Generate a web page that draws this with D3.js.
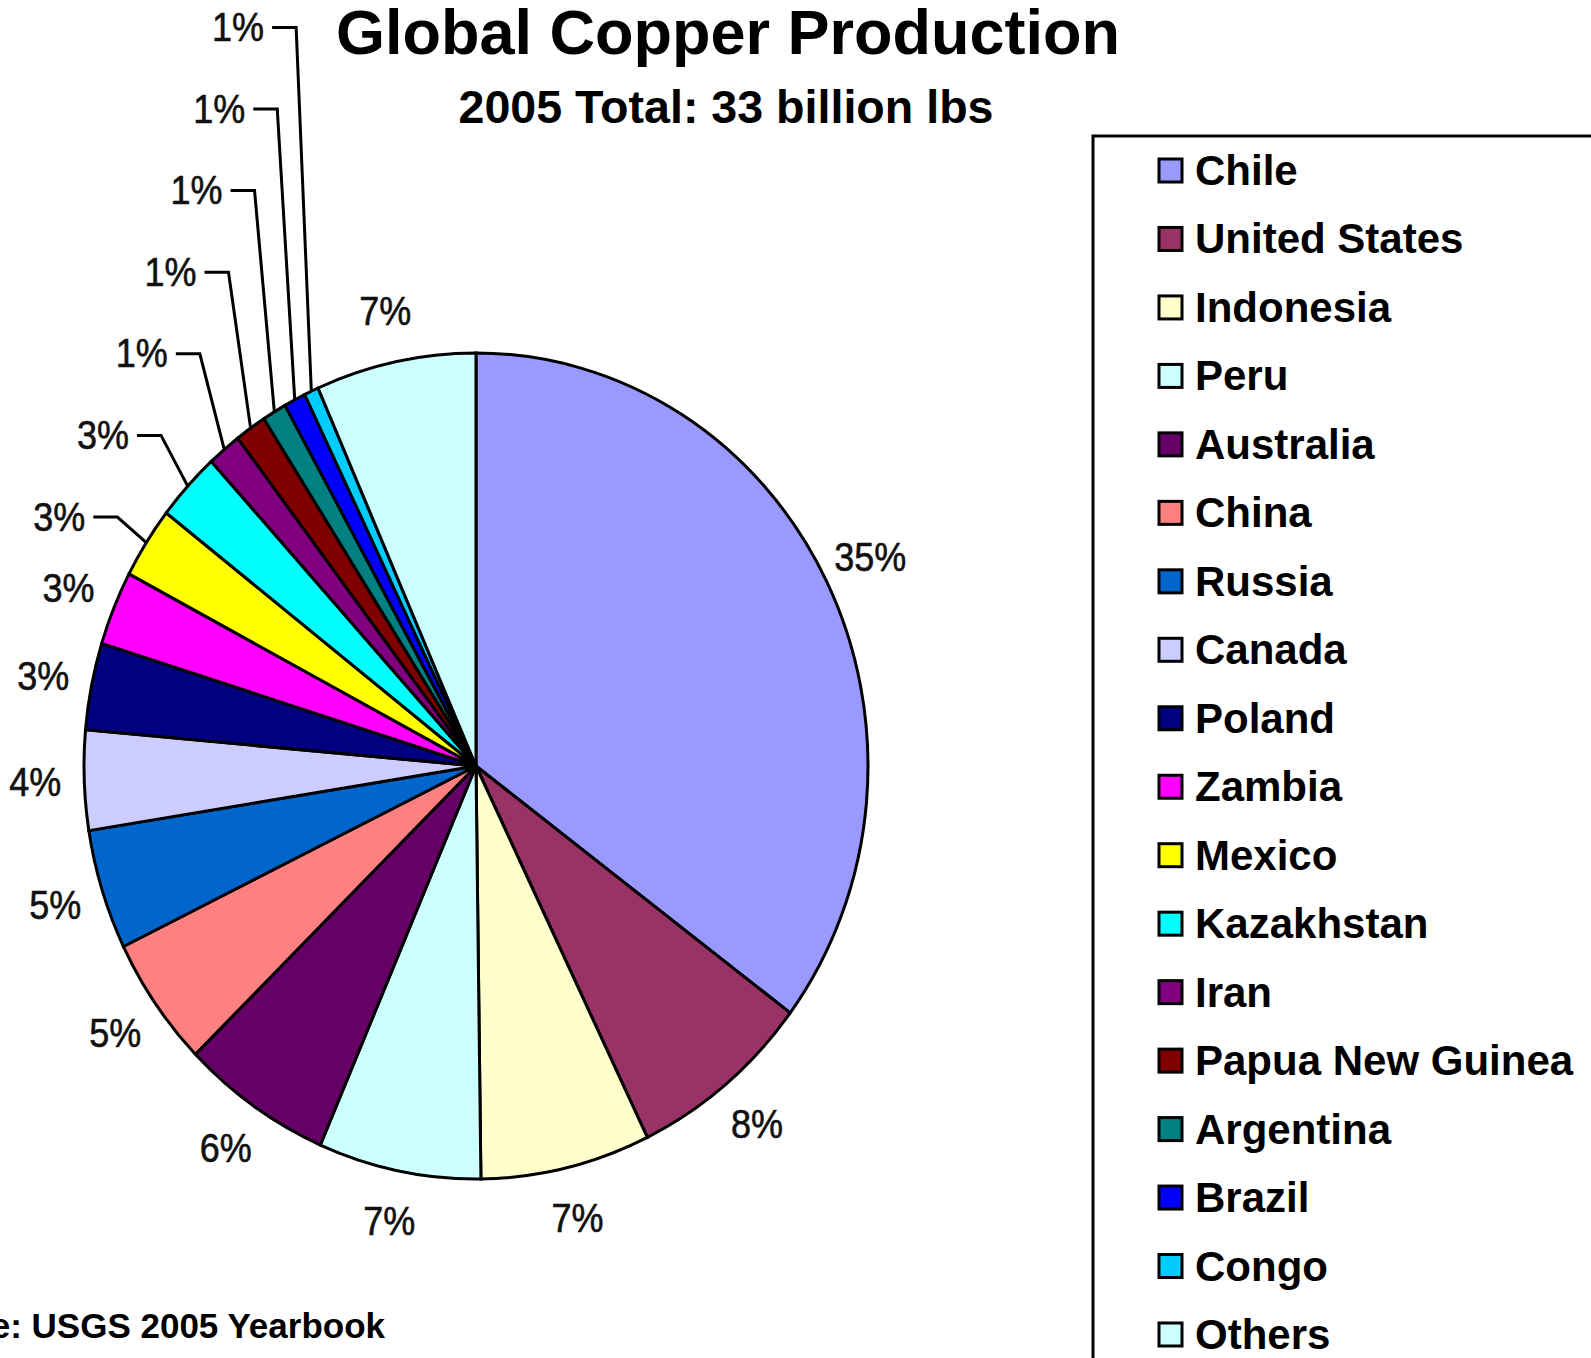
<!DOCTYPE html>
<html>
<head>
<meta charset="utf-8">
<script src="https://cdn.jsdelivr.net/npm/d3@7"></script>
<style>
  html, body { margin: 0; padding: 0; background: #fff; overflow: hidden; }
  svg { display: block; }
</style>
</head>
<body>
<svg id="chart" width="1591" height="1358"></svg>
<script>
// Share of 2005 world mine production of copper, by country (percent)
const countries = ["Chile", "United States", "Indonesia", "Peru", "Australia", "China",
  "Russia", "Canada", "Poland", "Zambia", "Mexico", "Kazakhstan", "Iran",
  "Papua New Guinea", "Argentina", "Brazil", "Congo", "Others"];
const shares = [35.2, 7.6, 7.0, 6.7, 6.2, 5.1, 4.7, 3.9, 3.4, 2.9, 2.8, 2.7, 1.4,
  1.3, 1.0, 0.9, 0.6, 6.6];
const sliceColors = ["#9999FF", "#993366", "#FFFFCC", "#CCFFFF", "#660066", "#FF8080",
  "#0066CC", "#CCCCFF", "#000080", "#FF00FF", "#FFFF00", "#00FFFF", "#800080",
  "#800000", "#008080", "#0000FF", "#00CCFF", "#CCFFFF"];
// Slices whose labels sit on a stacked column with leader lines
const leaderSlices = ["Mexico", "Kazakhstan", "Iran", "Papua New Guinea", "Argentina", "Brazil", "Congo"];

const titleText = "Global Copper Production";
const subtitleText = "2005 Total: 33 billion lbs";
const sourceText = "Source: USGS 2005 Yearbook";

const svg = d3.select("#chart");

// Pie geometry (drawn slightly narrower than tall)
const cx = 476, cy = 766, rx = 392, ry = 413;
const sx = rx / ry;

const data = countries.map((c, i) => ({ country: c, value: shares[i], color: sliceColors[i] }));
const total = d3.sum(shares);
const pct = v => Math.round(v / total * 100) + "%";

const pie = d3.pie().sort(null).value(d => d.value).startAngle(0).endAngle(2 * Math.PI);
const arcs = pie(data);
const arc = d3.arc().innerRadius(0).outerRadius(ry);

const pieG = svg.append("g").attr("transform", `translate(${cx},${cy}) scale(${sx},1)`);
pieG.selectAll("path.slice")
  .data(arcs)
  .join("path")
  .attr("class", "slice")
  .attr("d", arc)
  .attr("fill", d => d.data.color)
  .attr("stroke", "#000")
  .attr("stroke-width", 3)
  .attr("stroke-linejoin", "miter")
  .attr("vector-effect", "non-scaling-stroke");

// point on the pie's rim (or beyond, with k > 1) at a given angle
const rimPoint = (a, k = 1) => [cx + k * rx * Math.sin(a), cy - k * ry * Math.cos(a)];
const midAngle = d => (d.startAngle + d.endAngle) / 2;

const labelFont = "'Liberation Sans', Arial, sans-serif";
const labelSize = 40, labelSquash = 0.9;

function percentLabel(g, x, y, txt, anchor) {
  g.append("text")
    .attr("transform", `translate(${x},${y}) scale(${labelSquash},1)`)
    .attr("text-anchor", anchor)
    .attr("dominant-baseline", "central")
    .attr("font-family", labelFont)
    .attr("font-size", labelSize)
    .attr("fill", "#111")
    .attr("stroke", "#111")
    .attr("stroke-width", 0.6)
    .text(txt);
}

const labelsG = svg.append("g");

// Labels placed just outside the rim
arcs.filter(d => !leaderSlices.includes(d.data.country)).forEach(d => {
  const [x, y] = rimPoint(midAngle(d), 1.125);
  percentLabel(labelsG, x, y, pct(d.data.value), "middle");
});

// Stacked labels with leader lines for the thin slices
const rowTop = 517, rowStep = 81.6;
leaderSlices.forEach((name, j) => {
  const d = arcs.find(a => a.data.country === name);
  const [ex, ey] = rimPoint(midAngle(d), 1.0);
  const rowY = rowTop - j * rowStep;
  const elbowX = ex - (29 - 2.3 * j);
  const startX = elbowX - 24;
  labelsG.append("polyline")
    .attr("points", `${startX},${rowY} ${elbowX},${rowY} ${ex},${ey}`)
    .attr("fill", "none")
    .attr("stroke", "#000")
    .attr("stroke-width", 3);
  percentLabel(labelsG, startX - 8, rowY, pct(d.data.value), "end");
});

// Titles
svg.append("text")
  .attr("x", 728).attr("y", 54)
  .attr("text-anchor", "middle")
  .attr("font-family", labelFont)
  .attr("font-weight", "bold")
  .attr("font-size", 63)
  .attr("fill", "#000")
  .text(titleText);

svg.append("text")
  .attr("x", 726).attr("y", 123)
  .attr("text-anchor", "middle")
  .attr("font-family", labelFont)
  .attr("font-weight", "bold")
  .attr("font-size", 46)
  .attr("textLength", 535)
  .attr("lengthAdjust", "spacingAndGlyphs")
  .attr("fill", "#000")
  .text(subtitleText);

svg.append("text")
  .attr("x", 385).attr("y", 1338)
  .attr("text-anchor", "end")
  .attr("font-family", labelFont)
  .attr("font-weight", "bold")
  .attr("font-size", 35)
  .attr("fill", "#000")
  .text(sourceText);

// Legend
const legendG = svg.append("g");
legendG.append("rect")
  .attr("x", 1093).attr("y", 136)
  .attr("width", 700).attr("height", 1400)
  .attr("fill", "#fff")
  .attr("stroke", "#000")
  .attr("stroke-width", 3);

const legendY = d3.scalePoint().domain(countries).range([171, 1335]);
const rows = legendG.selectAll("g.row")
  .data(data)
  .join("g")
  .attr("class", "row")
  .attr("transform", d => `translate(0,${legendY(d.country)})`);
rows.append("rect")
  .attr("x", 1159).attr("y", -12)
  .attr("width", 23).attr("height", 23)
  .attr("fill", d => d.color)
  .attr("stroke", "#000")
  .attr("stroke-width", 3);
rows.append("text")
  .attr("x", 1195).attr("y", 14)
  .attr("font-family", labelFont)
  .attr("font-weight", "bold")
  .attr("font-size", 42)
  .attr("fill", "#000")
  .text(d => d.country);
</script>
</body>
</html>
